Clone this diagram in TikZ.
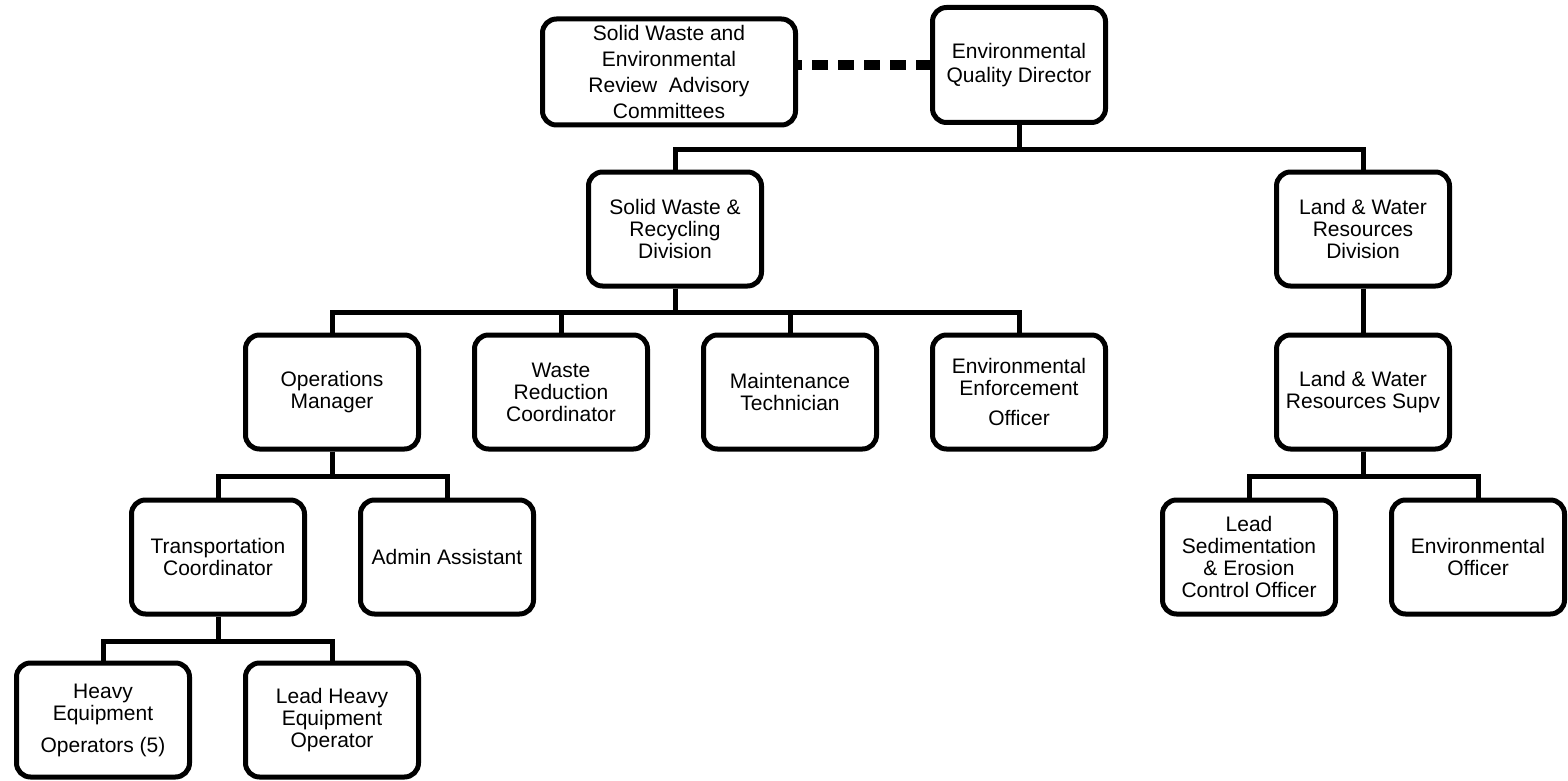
\documentclass[tikz,border=0pt]{standalone}
\usepackage{fontspec}
\setmainfont{Liberation Sans}
\usepackage{tikz}
\usetikzlibrary{shapes,arrows,positioning}

\begin{document}
\begin{tikzpicture}[x=1pt, y=1pt, node distance=229pt, auto]
    \tikzstyle{post} = [rectangle, draw, line width=5pt, rounded corners=14pt, align=center, inner sep=0pt, minimum width=173pt, minimum height=114pt, font=\fontsize{21pt}{22pt}\selectfont]
    \tikzstyle{line} = [line width=5pt]
    \tikzstyle{link} = [line width=10pt, dash pattern=on 16pt off 10pt, dash phase=1.5pt]
    \useasboundingbox (0,0) rectangle (1568,-781);

    \node [post, minimum height=115pt, font=\fontsize{21pt}{24pt}\selectfont] at (1019,-65) (director) {Environmental\\Quality Director};
    \node [post, left of=director, node distance=350pt, yshift=-7pt, minimum width=253pt, minimum height=106pt, font=\fontsize{21pt}{26pt}\selectfont] (committee) {Solid Waste and\\Environmental\\Review~ Advisory\\Committees};
    \node [post, below of=director, node distance=164pt, xshift=-344pt] (solidwaste) {Solid Waste \&\\Recycling\\Division};
    \node [post, right of=solidwaste, node distance=688pt] (landwater) {Land \& Water\\Resources\\Division};
    \node [post, below of=director, node distance=327pt] (enforcement) {Environmental\\Enforcement\\[8pt]Officer};
    \node [post, left of=enforcement] (maintenance) {Maintenance\\Technician};
    \node [post, left of=maintenance] (reduction) {Waste\\Reduction\\Coordinator};
    \node [post, left of=reduction] (operations) {Operations\\Manager};
    \node [post, below of=landwater, node distance=163pt] (supervisor) {Land \& Water\\Resources Supv};
    \node [post, below of=operations, node distance=165pt, xshift=-114pt] (transport) {Transportation\\Coordinator};
    \node [post, right of=transport] (admin) {Admin Assistant};
    \node [post, below of=supervisor, node distance=165pt, xshift=-114pt] (sediment) {Lead\\Sedimentation\\\& Erosion\\Control Officer};
    \node [post, right of=sediment] (envofficer) {Environmental\\Officer};
    \node [post, below of=transport, node distance=163pt, xshift=-115pt] (operators) {Heavy\\Equipment\\[10pt]Operators (5)};
    \node [post, right of=operators] (leadoperator) {Lead Heavy\\Equipment\\Operator};

    \draw [link] (director.west) -- (director.west -| committee.east);

    \draw [line] (director.south) -- ++(0,-24) -| (solidwaste.north);
    \draw [line] (director.south) -- ++(0,-24) -| (landwater.north);
    \draw [line] (solidwaste.south) -- ++(0,-24) -| (operations.north);
    \draw [line] (solidwaste.south) -- ++(0,-24) -| (reduction.north);
    \draw [line] (solidwaste.south) -- ++(0,-24) -| (maintenance.north);
    \draw [line] (solidwaste.south) -- ++(0,-24) -| (enforcement.north);
    \draw [line] (landwater) -- (supervisor);
    \draw [line] (operations.south) -- ++(0,-25) -| (transport.north);
    \draw [line] (operations.south) -- ++(0,-25) -| (admin.north);
    \draw [line] (supervisor.south) -- ++(0,-25) -| (sediment.north);
    \draw [line] (supervisor.south) -- ++(0,-25) -| (envofficer.north);
    \draw [line] (transport.south) -- ++(0,-25) -| (operators.north);
    \draw [line] (transport.south) -- ++(0,-25) -| (leadoperator.north);
\end{tikzpicture}
\end{document}
